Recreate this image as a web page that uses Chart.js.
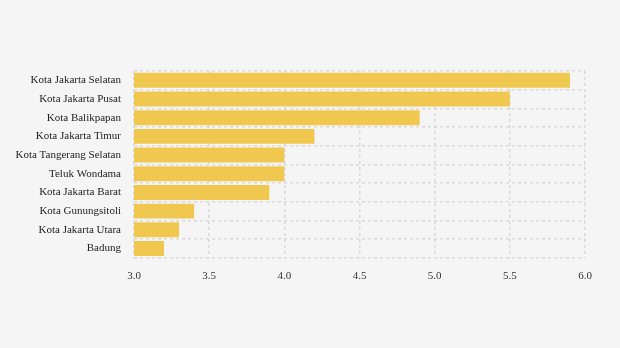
<!DOCTYPE html>
<html>
<head>
<meta charset="utf-8">
<script src="https://cdn.jsdelivr.net/npm/chart.js@4/dist/chart.umd.min.js"></script>
<style>
  html, body { margin: 0; padding: 0; background: #f5f5f5; }
  #wrap { width: 620px; height: 348px; }
</style>
</head>
<body>
<div id="wrap"><canvas id="grafico"></canvas></div>
<script>
// Datos del gráfico
const kategori = [
    "Kota Jakarta Selatan",
    "Kota Jakarta Pusat",
    "Kota Balikpapan",
    "Kota Jakarta Timur",
    "Kota Tangerang Selatan",
    "Teluk Wondama",
    "Kota Jakarta Barat",
    "Kota Gunungsitoli",
    "Kota Jakarta Utara",
    "Badung"
];
const nilai = [5.9, 5.5, 4.9, 4.2, 4.0, 4.0, 3.9, 3.4, 3.3, 3.2];
const ticksX = [3.0, 3.5, 4.0, 4.5, 5.0, 5.5, 6.0];

const fuente = { family: "'Liberation Serif', 'Times New Roman', serif", size: 11 };
const colorGrid = "#d9d9d9";

const ctx = document.getElementById("grafico").getContext("2d");
new Chart(ctx, {
    type: 'bar',
    data: {
        labels: kategori,
        datasets: [{
            data: nilai,
            backgroundColor: '#f0c850',
            borderWidth: 0,
            barPercentage: 0.8,
            categoryPercentage: 1.0
        }]
    },
    options: {
        indexAxis: 'y',
        responsive: true,
        maintainAspectRatio: false,
        animation: false,
        layout: { padding: { top: 71, right: 35, bottom: 53, left: 0 } },
        plugins: {
            legend: { display: false },
            tooltip: { enabled: false }
        },
        scales: {
            x: {
                min: ticksX[0],
                max: ticksX[ticksX.length - 1],
                afterBuildTicks: function(scale) {
                    scale.ticks = ticksX.map(v => ({ value: v }));
                },
                grid: {
                    color: colorGrid,
                    lineWidth: 1.5,
                    drawTicks: false
                },
                border: { display: false, dash: [3, 3] },
                ticks: {
                    color: '#333',
                    font: fuente,
                    padding: 12,
                    callback: function(v) { return Number(v).toFixed(1); }
                }
            },
            y: {
                afterFit: function(scale) { scale.width = 134; },
                grid: {
                    color: colorGrid,
                    lineWidth: 1.5,
                    offset: true,
                    drawTicks: false
                },
                border: { display: false, dash: [3, 3] },
                ticks: {
                    color: '#222',
                    font: fuente,
                    padding: 13
                }
            }
        }
    }
});
</script>
</body>
</html>
